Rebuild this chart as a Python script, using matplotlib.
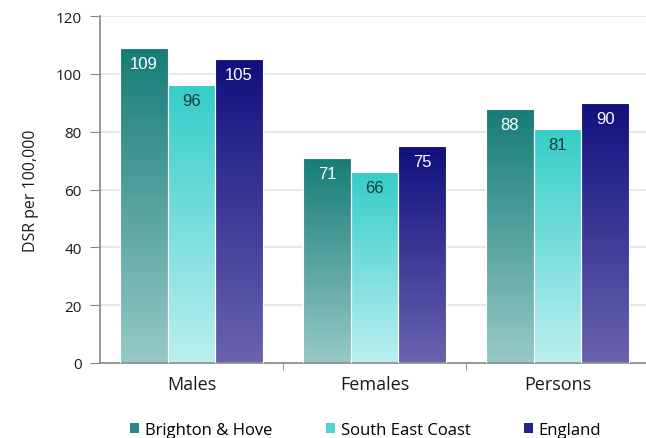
import matplotlib
matplotlib.use("Agg")
import matplotlib.pyplot as plt
import numpy as np
from matplotlib.colors import LinearSegmentedColormap
from matplotlib.patches import Patch

categories = ["Males", "Females", "Persons"]
series_names = ["Brighton & Hove", "South East Coast", "England"]
brighton = [109, 71, 88]
sec = [96, 66, 81]
england = [105, 75, 90]
yticks = [0, 20, 40, 60, 80, 100, 120]

values = [brighton, sec, england]
top_colors = ["#167c77", "#35cdc9", "#10107e"]
bottom_colors = ["#97c9c7", "#bbefef", "#6a63ae"]
label_colors = ["white", "#1a3a3a", "white"]
legend_colors = ["#2a8a86", "#4fd6d3", "#23238a"]

plt.rcParams['font.family'] = ['Open Sans', 'DejaVu Sans']

fig = plt.figure(figsize=(6.46, 4.39), dpi=100)
ax = fig.add_axes([100/646, 75/439, 549/646, 347/439])

x = np.arange(len(categories))
width = 0.26
offsets = [-width, 0, width]
grad = np.linspace(0, 1, 256).reshape(-1, 1)

for i, vals in enumerate(values):
    cmap = LinearSegmentedColormap.from_list("g%d" % i, [bottom_colors[i], top_colors[i]])
    bars = ax.bar(x + offsets[i], vals, width, color="none", edgecolor="white", linewidth=0.8, zorder=3)
    for b, v in zip(bars, vals):
        x0, y0 = b.get_x(), b.get_y()
        w, h = b.get_width(), b.get_height()
        im = ax.imshow(grad, extent=[x0, x0 + w, y0, y0 + h], origin="lower",
                       aspect="auto", cmap=cmap, zorder=2)
        im.set_clip_path(b)
        ax.text(x0 + w / 2, v - 2.8, f"{v}", ha="center", va="top", fontsize=12,
                color=label_colors[i], family=["Liberation Sans", "DejaVu Sans"], zorder=4)

ax.set_xlim(-0.5, 2.5)
ax.set_ylim(0, 120)
ax.set_yticks(yticks)
ax.set_yticklabels([str(t) for t in yticks], fontsize=11, color="#1a1a1a")
ax.set_xticks(x)
ax.set_xticklabels(categories, fontsize=13, color="#1a1a1a")
ax.set_xticks([0.5, 1.5], minor=True)
ax.tick_params(axis="x", which="major", length=0, pad=9)
ax.tick_params(axis="x", which="minor", length=5, direction="out", color="#888888")
ax.tick_params(axis="y", length=7, direction="out", color="#888888", pad=6)
ax.yaxis.grid(True, color="#e4e4e4", linewidth=1.2, zorder=0)
ax.set_axisbelow(True)
for s in ["top", "right"]:
    ax.spines[s].set_visible(False)
for s in ["left", "bottom"]:
    ax.spines[s].set_color("#888888")
    ax.spines[s].set_linewidth(1.2)
ax.set_ylabel("DSR per 100,000", fontsize=11.5, color="#1a1a1a", labelpad=12)

handles = [Patch(facecolor=c, edgecolor="none") for c in legend_colors]
fig.legend(handles, series_names, loc="lower center", bbox_to_anchor=(0.566, -0.035),
           ncol=3, frameon=False, fontsize=12, handlelength=0.55, handleheight=0.55,
           columnspacing=3.2, handletextpad=0.35)

fig.savefig("out.png", dpi=100)
